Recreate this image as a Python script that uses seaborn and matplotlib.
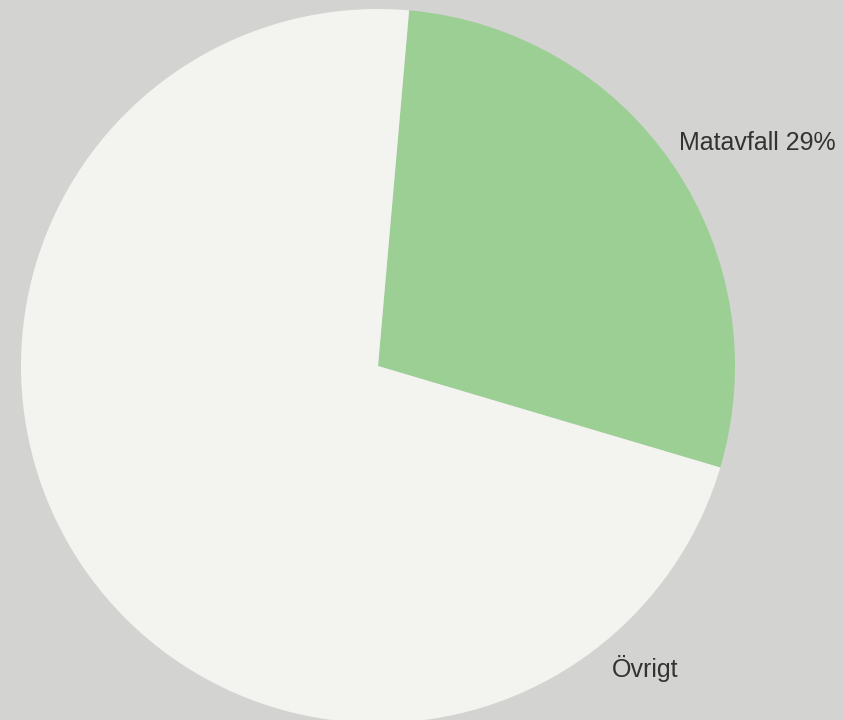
import matplotlib
matplotlib.use("Agg")
import matplotlib.pyplot as plt
import seaborn as sns

categories = ["Matavfall", "Övrigt"]
shares = [28.2, 71.8]
label_texts = ["Matavfall 29%", "Övrigt"]

sns.set_theme(style="white")
plt.rcParams['font.family'] = ['Liberation Sans', 'DejaVu Sans']

bg = "#d3d3d2"
colors = ["#9ccf94", "#f3f3ef"]

fig = plt.figure(figsize=(8.43, 7.2), dpi=100, facecolor=bg)
ax = fig.add_axes([0, 0, 1, 1])
ax.set_facecolor(bg)

cx, cy, r = 378, 720 - 366, 357
ax.pie(shares, colors=colors, startangle=85.0, counterclock=False,
       center=(cx, cy), radius=r, wedgeprops=dict(linewidth=0))

ax.set_xlim(0, 843)
ax.set_ylim(0, 720)
ax.set_aspect("equal")
ax.axis("off")

ax.text(679, 720 - 143, label_texts[0], fontsize=18, color="#333333",
        ha="left", va="center")
ax.text(612, 720 - 668, label_texts[1], fontsize=18, color="#333333",
        ha="left", va="center")

fig.savefig("out.png", dpi=100, facecolor=bg)
